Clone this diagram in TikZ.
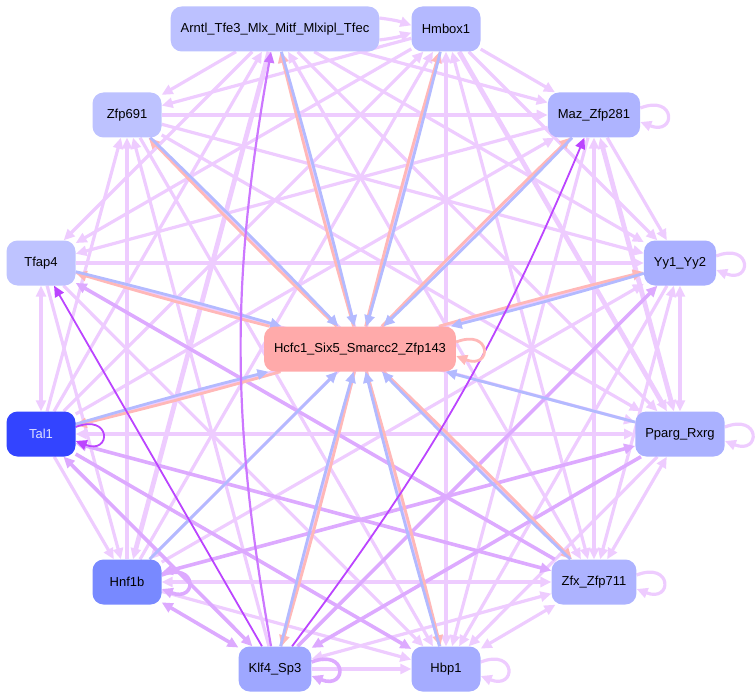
\documentclass[tikz,border=0pt]{standalone}
\usepackage{fontspec}
\newfontfamily\labelfont{Liberation Sans}
\usetikzlibrary{arrows.meta, backgrounds}

\definecolor{lilac}{HTML}{EECCFF}
\definecolor{mauve}{HTML}{DDAAFF}
\definecolor{orchid}{HTML}{CC77FF}
\definecolor{grape}{HTML}{BB44FF}
\definecolor{inblue}{HTML}{B3BAFF}
\definecolor{outpink}{HTML}{FFB8B8}

\tikzset{
  tfbox/.style={rounded corners=11pt, minimum width=69pt, minimum height=45pt,
    inner xsep=10pt, font=\labelfont\fontsize{13}{15}\selectfont},
  weak/.style={draw=lilac, line width=3.2pt},
  strong/.style={draw=lilac, line width=4.8pt},
  mid/.style={draw=mauve, line width=3.6pt},
  deep/.style={draw=grape, line width=1.8pt},
  inflow/.style={draw=inblue, line width=2.8pt},
  outflow/.style={draw=outpink, line width=2.8pt},
  >={Triangle[length=11pt, width=10pt]},
}

\newcommand{\relate}[3]{\draw[#1] (#2) -- (#3);}
\newcommand{\selfloop}[2]{
  \draw[#1,->] ([yshift=7pt]#2.east) .. controls +(36,-14) and +(36,14) .. ([yshift=-7pt]#2.east);
}
\newcommand{\exchange}[1]{
  \draw[outflow,->] (hc) to[bend left=1] (#1);
  \draw[inflow,->] (#1) to[bend left=1] (hc);
}

\begin{document}
\begin{tikzpicture}[x=1pt, y=-1pt]

\useasboundingbox (0,0) rectangle (755,698);

% Outer ring of factors
\node[tfbox, fill={rgb,255:red,188;green,193;blue,255}] (ar) at (275,29) {Arntl\_Tfe3\_Mlx\_Mitf\_Mlxipl\_Tfec};
\node[tfbox, fill={rgb,255:red,180;green,185;blue,255}] (hm) at (446,29) {Hmbox1};
\node[tfbox, fill={rgb,255:red,174;green,180;blue,255}] (mz) at (594,115) {Maz\_Zfp281};
\node[tfbox, fill={rgb,255:red,169;green,175;blue,255}] (yy) at (680,263) {Yy1\_Yy2};
\node[tfbox, fill={rgb,255:red,170;green,177;blue,255}] (pp) at (680,434) {Pparg\_Rxrg};
\node[tfbox, fill={rgb,255:red,173;green,179;blue,255}] (zx) at (594,582) {Zfx\_Zfp711};
\node[tfbox, fill={rgb,255:red,165;green,172;blue,255}] (hb) at (446,669) {Hbp1};
\node[tfbox, fill={rgb,255:red,158;green,167;blue,255}] (kl) at (275,669) {Klf4\_Sp3};
\node[tfbox, fill={rgb,255:red,120;green,137;blue,255}] (hn) at (127,582) {Hnf1b};
\node[tfbox, fill={rgb,255:red,51;green,68;blue,255}, text={rgb,255:red,221;green,224;blue,255}] (tl) at (41,434) {Tal1};
\node[tfbox, fill={rgb,255:red,190;green,195;blue,255}] (tf) at (41,263) {Tfap4};
\node[tfbox, fill={rgb,255:red,189;green,194;blue,255}] (zf) at (127,115) {Zfp691};
% Hub
\node[tfbox, fill={rgb,255:red,255;green,170;blue,170}] (hc) at (360,349) {Hcfc1\_Six5\_Smarcc2\_Zfp143};

\begin{scope}[on background layer]
% Ring links
\relate{weak,->}{ar}{mz}
\relate{weak,->}{ar}{yy}
\relate{weak,->}{ar}{pp}
\relate{weak,<->}{ar}{zx}
\relate{weak,->}{hb}{ar}
\relate{strong,->}{ar}{hn}
\relate{weak,->}{tl}{ar}
\relate{weak,->}{ar}{tf}
\relate{weak,->}{ar}{zf}
\draw[weak,->] (ar) to[bend left=6] (hm);
\draw[weak,->] (ar) to[bend right=6] (hm);

\relate{weak,->}{hm}{mz}
\relate{weak,->}{hm}{yy}
\relate{strong,->}{hm}{pp}
\relate{weak,<->}{hm}{zx}
\relate{weak,<->}{hm}{hb}
\relate{weak,->}{kl}{hm}
\relate{weak,->}{hn}{hm}
\relate{weak,->}{tl}{hm}
\relate{weak,->}{hm}{tf}
\relate{weak,->}{hm}{zf}

\relate{weak,->}{mz}{yy}
\relate{strong,<->}{mz}{pp}
\relate{strong,<->}{mz}{zx}
\relate{weak,->}{mz}{hb}
\relate{weak,->}{mz}{hn}
\relate{weak,->}{tl}{mz}
\relate{weak,->}{mz}{tf}
\relate{weak,->}{zf}{mz}

\relate{strong,<->}{yy}{pp}
\relate{weak,<->}{yy}{zx}
\relate{weak,->}{yy}{hb}
\relate{weak,->}{hn}{yy}
\relate{weak,->}{tl}{yy}
\relate{weak,->}{tf}{yy}
\relate{weak,->}{zf}{yy}

\relate{weak,<->}{pp}{zx}
\relate{weak,->}{pp}{hb}
\relate{strong,<->}{tl}{pp}
\relate{weak,->}{tf}{pp}
\relate{weak,->}{zf}{pp}

\relate{weak,<->}{zx}{hb}
\relate{weak,<->}{zx}{kl}
\relate{strong,<->}{zx}{hn}
\relate{weak,->}{zf}{zx}

\relate{weak,->}{kl}{hb}
\relate{weak,->}{hn}{hb}
\relate{weak,->}{tf}{hb}
\relate{weak,->}{zf}{hb}

\relate{weak,->}{kl}{zf}
\relate{weak,->}{tl}{hn}
\relate{weak,->}{tf}{hn}
\relate{strong,->}{hn}{zf}
\relate{weak,<->}{tl}{tf}
\relate{weak,->}{tl}{zf}

% Stronger ring links
\relate{mid,->}{kl}{yy}
\relate{mid,->}{pp}{kl}
\relate{mid,<->}{hn}{pp}
\relate{mid,<->}{tl}{zx}
\relate{mid,->}{zx}{tf}
\relate{mid,->}{tl}{hb}
\relate{mid,<->}{kl}{hn}
\relate{mid,<->}{kl}{tl}

% Hub links
\exchange{ar}
\exchange{hm}
\exchange{mz}
\exchange{yy}
\exchange{zx}
\exchange{hb}
\exchange{kl}
\exchange{tl}
\exchange{tf}
\exchange{zf}
\relate{inflow,->}{pp}{hc}
\relate{inflow,->}{hn}{hc}

% Darkest links
\draw[orchid, line width=2.2pt, ->] (kl) to[bend left=10] (ar);
\draw[deep,->] (kl) to[bend right=7] (mz);
\relate{deep,->}{kl}{tf}

% Loops
\selfloop{weak}{mz}
\selfloop{weak}{yy}
\selfloop{weak}{pp}
\selfloop{weak}{zx}
\selfloop{weak}{hb}
\selfloop{mid}{kl}
\selfloop{mid}{hn}
\selfloop{deep}{tl}
\selfloop{outflow}{hc}
\end{scope}

\end{tikzpicture}
\end{document}
